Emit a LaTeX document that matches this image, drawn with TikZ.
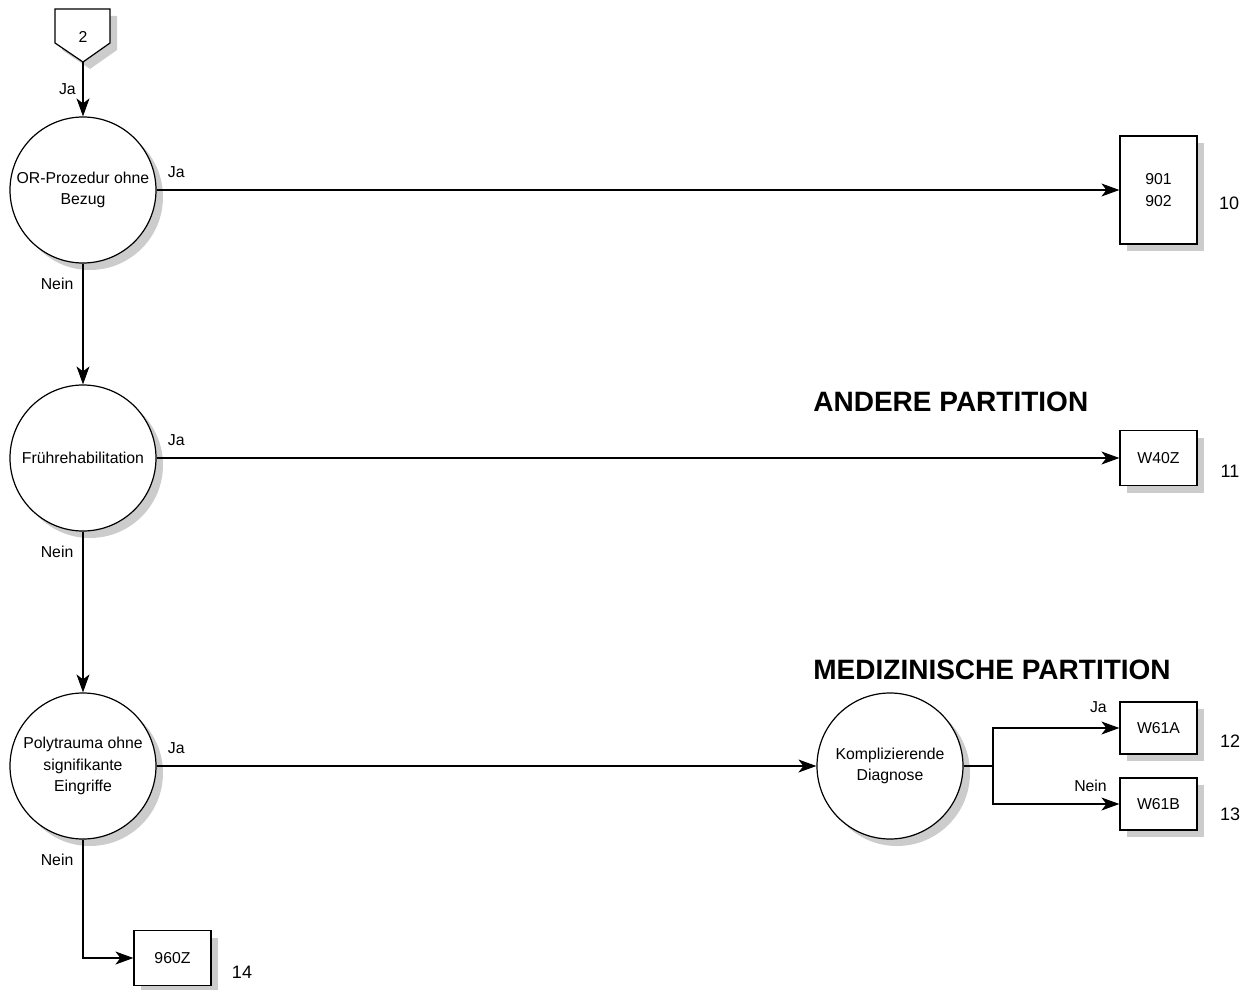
\documentclass[tikz,border=0pt]{standalone}
\usepackage{fontspec}
\setmainfont{Liberation Sans}
\usetikzlibrary{arrows.meta,shadows}

\begin{document}
\begin{tikzpicture}[
    x=0.5pt, y=-0.5pt,
    every node/.style={font=\fontsize{7.9}{10.8}\selectfont},
    dropshade/.style={drop shadow={shadow xshift=3.5pt, shadow yshift=-3.5pt, fill=gray!40, opacity=1}},
    question/.style={circle, draw, line width=0.6pt, fill=white, minimum size=73pt, inner sep=0pt, align=center, dropshade},
    drg/.style={rectangle, draw, line width=0.6pt, fill=white, minimum width=38.5pt, inner sep=0pt, align=center, dropshade},
    number/.style={font=\fontsize{9}{11}\selectfont},
    heading/.style={font=\bfseries\fontsize{14}{16}\selectfont, inner sep=0pt, anchor=base west},
    arrow/.style={-{Stealth[length=9pt, width=6.5pt, inset=2.5pt]}, line width=0.6pt},
    line/.style={line width=0.6pt}
]
\useasboundingbox (0,0) rectangle (1253,990);

% Off-page connector 2
\filldraw[line, fill=white, dropshade] (55,9) -- (110,9) -- (110,43) -- (83,62) -- (55,43) -- cycle;
\node (conn2) at (83,37) {2};
\coordinate (conn2tip) at (83,62);

% Questions down the left side
\node[question] (orproz) at (83,190) {OR-Prozedur ohne\\Bezug};
\node[question] (frueh) at (83,458) {Frührehabilitation};
\node[question] (poly) at (83,766) {Polytrauma ohne\\signifikante\\Eingriffe};
% Question in the medical partition
\node[question] (kompl) at (890,766) {Komplizierende\\Diagnose};
\coordinate (split) at (993,766);

% Partition headings
\node[heading] (andere) at (813,411) {ANDERE PARTITION};
\node[heading] (medizin) at (813,679) {MEDIZINISCHE PARTITION};

% DRG boxes
\node[drg, minimum height=54pt] (b901) at (1158.5,190) {901\\902};
\node[drg, minimum height=27.5pt] (w40z) at (1158.5,458) {W40Z};
\node[drg, minimum height=26pt] (w61a) at (1158.5,728) {W61A};
\node[drg, minimum height=26pt] (w61b) at (1158.5,804) {W61B};
\node[drg, minimum height=27.5pt] (b960z) at (172.5,958) {960Z};

% Box numbers
\node[number] (nr10) at (1229,203) {10};
\node[number] (nr11) at (1230,471) {11};
\node[number] (nr12) at (1230,741) {12};
\node[number] (nr13) at (1230,814) {13};
\node[number] (nr14) at (242,972) {14};

% Edges
\draw[arrow] (conn2tip) -- (orproz) node[midway, left] {Ja};

\draw[arrow] (orproz) -- (b901) node[pos=0, anchor=south west, xshift=2pt, yshift=2.5pt] {Ja};
\draw[arrow] (orproz) -- (frueh) node[pos=0, anchor=north east, xshift=-1.2pt, yshift=-3.5pt] {Nein};

\draw[arrow] (frueh) -- (w40z) node[pos=0, anchor=south west, xshift=2pt, yshift=2.5pt] {Ja};
\draw[arrow] (frueh) -- (poly) node[pos=0, anchor=north east, xshift=-1.2pt, yshift=-3.5pt] {Nein};

\draw[arrow] (poly) -- (kompl) node[pos=0, anchor=south west, xshift=2pt, yshift=2.5pt] {Ja};
\draw[arrow] (poly) |- (b960z) node[pos=0, anchor=north east, xshift=-1.2pt, yshift=-3.5pt] {Nein};

\draw[line] (kompl) -- (split);
\draw[arrow] (split) |- (w61a) node[pos=1, anchor=south east, xshift=-2.7pt, yshift=4pt] {Ja};
\draw[arrow] (split) |- (w61b) node[pos=1, anchor=south east, xshift=-2.7pt, yshift=2.7pt] {Nein};

\end{tikzpicture}
\end{document}
